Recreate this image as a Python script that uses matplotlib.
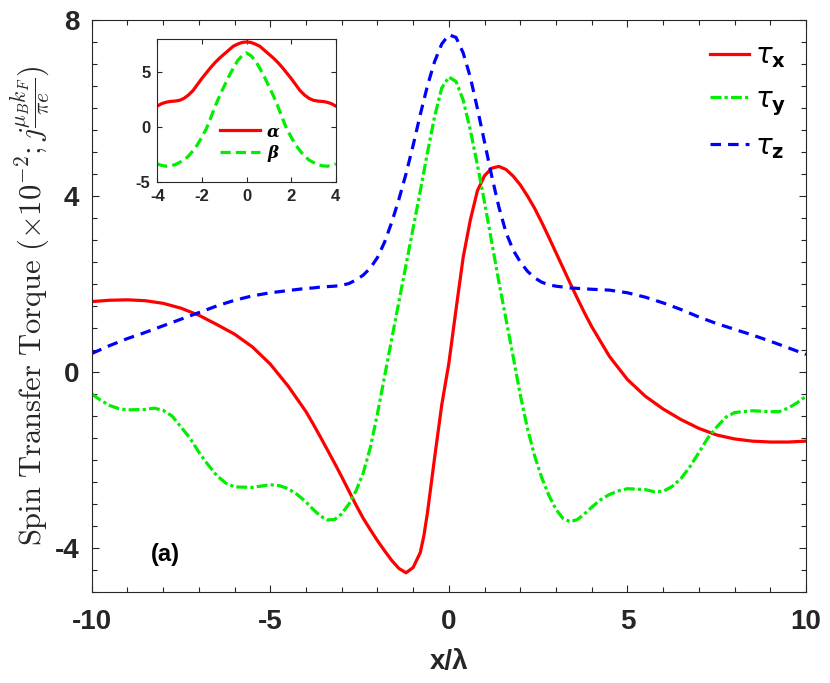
import numpy as np
import matplotlib
matplotlib.use('Agg')
import matplotlib.pyplot as plt
from matplotlib.ticker import MultipleLocator

plt.rcParams['axes.unicode_minus'] = False

# ---- main panel data ----
x_tx = [-10, -9.5, -9, -8.5, -8, -7.5, -7, -6.5, -6, -5.5, -5, -4.5,
        -4.0, -3.8, -3.6, -3.4, -3.2, -3.0, -2.8, -2.6, -2.4, -2.2, -2.0, -1.8,
        -1.6, -1.4, -1.2, -1.0, -0.8, -0.7, -0.6, -0.4, -0.2, 0.0, 0.2, 0.4, 0.6,
        0.8, 1.0, 1.2, 1.4, 1.6, 1.8, 2.0, 2.2, 2.4, 2.6, 2.8, 3.0, 3.2, 3.4,
        3.6, 3.8, 4.0, 4.5, 5, 5.5, 6, 6.5, 7, 7.5, 8, 8.5, 9, 9.5, 10]
tau_x = [1.60, 1.63, 1.64, 1.62, 1.56, 1.45, 1.29, 1.08, 0.86, 0.57, 0.18, -0.32,
         -0.90, -1.18, -1.47, -1.77, -2.07, -2.38, -2.70, -3.02, -3.32, -3.58,
         -3.83, -4.06, -4.28, -4.46, -4.56, -4.44, -4.10, -3.72, -3.20, -1.95,
         -0.75, 0.20, 1.42, 2.60, 3.45, 4.12, 4.46, 4.63, 4.67, 4.60, 4.45,
         4.25, 4.00, 3.72, 3.40, 3.06, 2.71, 2.36, 2.01, 1.67, 1.34, 1.03, 0.35,
         -0.17, -0.55, -0.84, -1.08, -1.28, -1.43, -1.52, -1.57, -1.59, -1.59,
         -1.57]

x_ty = [-10, -9.75, -9.5, -9.25, -9.0, -8.5, -8.25, -8.0, -7.75, -7.5, -7.25,
        -7.0, -6.75, -6.5, -6.25, -6.0, -5.5, -5.0, -4.75, -4.5, -4.25,
        -4.0, -3.8, -3.6, -3.4, -3.2, -3.0, -2.8, -2.6, -2.4, -2.2, -2.0, -1.8,
        -1.6, -1.4, -1.2, -1.0, -0.8, -0.6, -0.4, -0.2, 0.0, 0.2, 0.4, 0.6,
        0.8, 1.0, 1.2, 1.4, 1.6, 1.8, 2.0, 2.2, 2.4, 2.6, 2.8, 3.0, 3.2, 3.4,
        3.6, 3.8, 4.0, 4.25, 4.5, 4.75, 5.0, 5.5, 5.75, 6.0, 6.25, 6.5, 6.75,
        7.0, 7.25, 7.5, 7.75, 8.0, 8.5, 9.0, 9.25, 9.5, 9.75, 10]
tau_y = [-0.50, -0.64, -0.76, -0.83, -0.86, -0.85, -0.82, -0.87, -1.00, -1.25,
         -1.50, -1.82, -2.10, -2.35, -2.52, -2.61, -2.62, -2.56, -2.58, -2.65,
         -2.78, -2.95, -3.12, -3.27, -3.36, -3.35, -3.22, -3.00, -2.70, -2.30,
         -1.72, -0.95, -0.10, 0.75, 1.59, 2.43, 3.27, 4.11, 4.98, 5.80, 6.45,
         6.70, 6.60, 6.18, 5.50, 4.70, 3.85, 2.95, 2.05, 1.20, 0.35, -0.52,
         -1.28, -1.90, -2.40, -2.80, -3.12, -3.33, -3.40, -3.35, -3.22, -3.07,
         -2.90, -2.78, -2.70, -2.65, -2.67, -2.72, -2.71, -2.60, -2.42, -2.15,
         -1.83, -1.50, -1.25, -1.03, -0.92, -0.88, -0.90, -0.90, -0.82, -0.70,
         -0.55]

x_tz = [-10, -9.5, -9, -8.5, -8, -7.5, -7, -6.5, -6, -5.5, -5, -4.5,
        -4.0, -3.8, -3.6, -3.4, -3.2, -3.0, -2.8, -2.6, -2.4, -2.2, -2.0, -1.8,
        -1.6, -1.4, -1.2, -1.0, -0.8, -0.6, -0.4, -0.2, 0.0, 0.2, 0.4, 0.6,
        0.8, 1.0, 1.2, 1.4, 1.6, 1.8, 2.0, 2.2, 2.4, 2.6, 2.8, 3.0, 3.2, 3.4,
        3.6, 3.8, 4.0, 4.5, 5, 5.5, 6, 6.5, 7, 7.5, 8, 8.5, 9, 9.5, 10]
tau_z = [0.42, 0.60, 0.76, 0.90, 1.05, 1.20, 1.35, 1.50, 1.63, 1.73, 1.80, 1.85,
         1.90, 1.91, 1.93, 1.94, 1.95, 1.97, 2.01, 2.09, 2.20, 2.36, 2.60, 2.95,
         3.40, 3.92, 4.50, 5.15, 5.85, 6.50, 7.05, 7.45, 7.66, 7.60, 7.25, 6.70,
         5.98, 5.22, 4.45, 3.75, 3.17, 2.77, 2.50, 2.29, 2.14, 2.04, 1.98, 1.95,
         1.93, 1.91, 1.90, 1.89, 1.88, 1.86, 1.80, 1.70, 1.57, 1.42, 1.25, 1.10,
         0.97, 0.84, 0.70, 0.55, 0.40]

# ---- inset data ----
x_in = [-4.0, -3.8, -3.6, -3.4, -3.2, -3.0, -2.8, -2.6, -2.4, -2.2, -2.0, -1.8,
        -1.6, -1.4, -1.2, -1.0, -0.8, -0.6, -0.4, -0.2, 0.0, 0.2, 0.4, 0.6,
        0.8, 1.0, 1.2, 1.4, 1.6, 1.8, 2.0, 2.2, 2.4, 2.6, 2.8, 3.0, 3.2, 3.4,
        3.6, 3.8, 4.0]
alpha_in = [1.90, 2.12, 2.25, 2.32, 2.35, 2.42, 2.60, 2.90, 3.30, 3.85, 4.40,
            4.90, 5.40, 5.85, 6.25, 6.60, 6.95, 7.30, 7.50, 7.65, 7.70, 7.65,
            7.50, 7.30, 6.95, 6.60, 6.25, 5.85, 5.40, 4.90, 4.40, 3.85, 3.30,
            2.90, 2.60, 2.42, 2.35, 2.32, 2.25, 2.12, 1.90]
beta_in = [-3.33, -3.47, -3.54, -3.50, -3.40, -3.20, -2.98, -2.62, -2.15, -1.60,
           -0.90, -0.15, 0.85, 1.90, 2.85, 3.70, 4.55, 5.30, 6.00, 6.45, 6.70,
           6.45, 6.00, 5.30, 4.55, 3.70, 2.85, 1.90, 0.85, -0.15, -0.90, -1.60,
           -2.15, -2.62, -2.98, -3.20, -3.40, -3.50, -3.54, -3.47, -3.33]

axis_col = '#262626'
sans = 'Liberation Sans'

fig = plt.figure(figsize=(8.3, 6.83), dpi=100)
ax = fig.add_axes([0.1105, 0.133, 0.8606, 0.838])

ax.plot(x_tx, tau_x, color='red', lw=2.3, label=r'$\tau_{\mathbf{x}}$')
ax.plot(x_ty, tau_y, color='#00ee00', lw=2.3, dashes=(3.4, 1.0, 1.0, 1.0),
        label=r'$\tau_{\mathbf{y}}$')
ax.plot(x_tz, tau_z, color='#0000ff', lw=2.3, dashes=(3.3, 2.2),
        label=r'$\tau_{\mathbf{z}}$')

ax.set_xlim(-10, 10)
ax.set_ylim(-5, 8)
ax.set_xticks([-10, -5, 0, 5, 10])
ax.set_yticks([-4, 0, 4, 8])
ax.xaxis.set_minor_locator(MultipleLocator(1))
ax.yaxis.set_minor_locator(MultipleLocator(0.5))
ax.tick_params(which='both', direction='in', top=True, right=True, color=axis_col)
ax.tick_params(which='major', length=5, width=0.8, labelsize=20,
               labelcolor=axis_col)
ax.tick_params(axis='x', which='major', pad=12)
ax.tick_params(axis='y', which='major', pad=9)
ax.tick_params(which='minor', length=3.5, width=0.8)
for lab in ax.get_xticklabels() + ax.get_yticklabels():
    lab.set_fontweight('bold')
    lab.set_family(sans)
for sp in ax.spines.values():
    sp.set_color(axis_col)
    sp.set_linewidth(0.8)

ax.set_xlabel('x/λ', fontsize=20, fontweight='bold', family=sans, color=axis_col,
              labelpad=10)
ylab = ax.set_ylabel(r'$\mathrm{Spin\ Transfer\ Torque}\ (\times10^{-2};j\frac{\mu_B k_F}{\pi e})$',
                     fontsize=22, color=axis_col, labelpad=2)
ylab.set_math_fontfamily('cm')

ax.text(-8.35, -4.3, '(a)', fontsize=17, fontweight='bold', family=sans)

leg = ax.legend(loc='upper right', frameon=False, fontsize=20, handlelength=1.4,
                handletextpad=0.25, labelspacing=0.52, borderaxespad=0.3,
                bbox_to_anchor=(1.0, 0.996))

# ---- inset ----
axi = fig.add_axes([0.1895, 0.733, 0.215, 0.2105])
axi.plot(x_in, alpha_in, color='red', lw=2.3, label='α')
axi.plot(x_in, beta_in, color='#00ee00', lw=2.3, dashes=(3.2, 1.6), label='β')
axi.set_xlim(-4, 4)
axi.set_ylim(-5, 8)
axi.set_xticks([-4, -2, 0, 2, 4])
axi.set_yticks([-5, 0, 5])
axi.tick_params(which='both', direction='in', top=True, right=True, color=axis_col,
                length=3.5, width=0.8, labelsize=12, labelcolor=axis_col, pad=5)
for lab in axi.get_xticklabels() + axi.get_yticklabels():
    lab.set_fontweight('bold')
    lab.set_family(sans)
for sp in axi.spines.values():
    sp.set_color(axis_col)
    sp.set_linewidth(0.8)
li = axi.legend(loc='center left', bbox_to_anchor=(0.27, 0.275), frameon=False,
                fontsize=12, handlelength=2.4, handletextpad=0.4, labelspacing=0.3)
for t in li.get_texts():
    t.set_fontweight('bold')
    t.set_fontstyle('italic')
    t.set_family('DejaVu Serif')

fig.savefig('out.png', dpi=100)
